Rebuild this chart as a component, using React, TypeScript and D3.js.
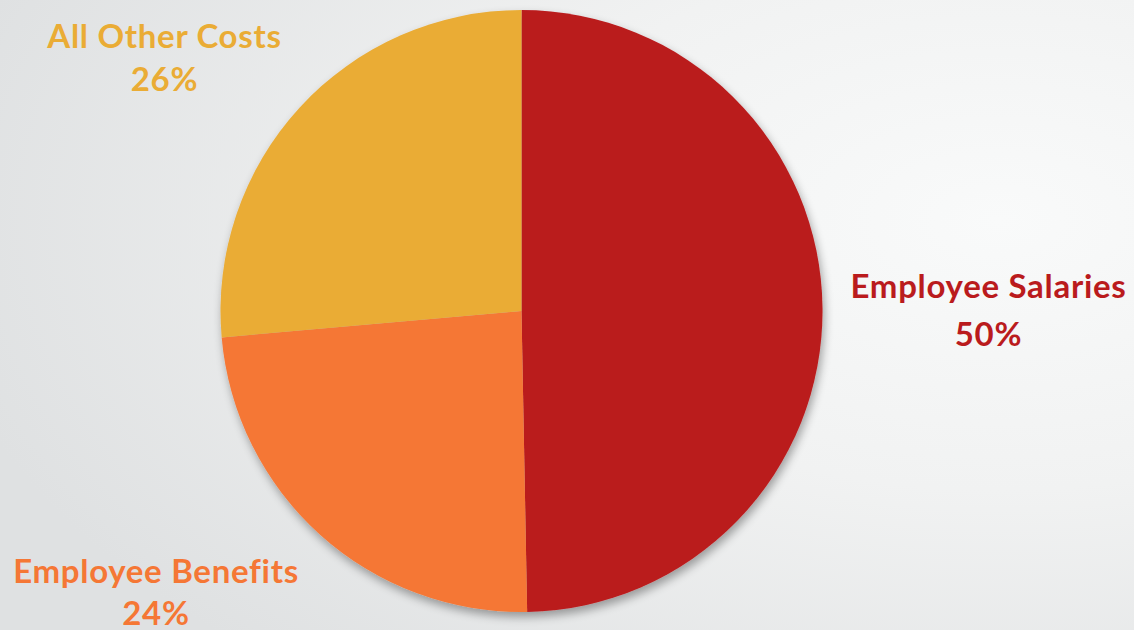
import React from "react";
import * as d3 from "d3";

const categories = ["Employee Salaries", "Employee Benefits", "All Other Costs"];
const values = [49.7, 23.9, 26.4];
const percentLabels = ["50%", "24%", "26%"];
const colors = ["#BA1B1D", "#F57735", "#EAAC35"];

const W = 1134;
const H = 630;
const cx = 521.5;
const cy = 311;
const R = 301;

const labelPos: [number, number, number][] = [
  [988.5, 298, 48],
  [156, 583, 42],
  [164.5, 48, 43],
];

export default function App() {
  const data = categories.map((c, i) => ({ name: c, value: values[i], pct: percentLabels[i], color: colors[i] }));
  const pie = d3.pie<any>().value((d) => d.value).sort(null).startAngle(0).endAngle(Math.PI * 2);
  const arcs = pie(data);
  const arc = d3.arc<any>().innerRadius(0).outerRadius(R);
  return (
    <svg width={W} height={H} style={{ position: "absolute", left: 0, top: 0 }}>
      <defs>
        <radialGradient id="bg" cx="0.88" cy="0.35" r="0.95" fx="0.88" fy="0.35">
          <stop offset="0" stopColor="#f9fafa" />
          <stop offset="0.45" stopColor="#f1f2f2" />
          <stop offset="1" stopColor="#dfe1e2" />
        </radialGradient>
        <filter id="shadow" x="-20%" y="-20%" width="140%" height="140%">
          <feGaussianBlur in="SourceAlpha" stdDeviation="5" />
          <feOffset dx="2" dy="5" result="b" />
          <feComponentTransfer>
            <feFuncA type="linear" slope="0.35" />
          </feComponentTransfer>
          <feMerge>
            <feMergeNode />
            <feMergeNode in="SourceGraphic" />
          </feMerge>
        </filter>
      </defs>
      <rect x={0} y={0} width={W} height={H} fill="url(#bg)" />
      <g transform={`translate(${cx},${cy})`} filter="url(#shadow)">
        {arcs.map((a, i) => (
          <path key={i} d={arc(a) as string} fill={a.data.color} />
        ))}
      </g>
      {data.map((d, i) => (
        <text
          key={i}
          x={labelPos[i][0]}
          y={labelPos[i][1]}
          textAnchor="middle"
          fill={d.color}
          style={{ fontFamily: "Lato, 'Open Sans', sans-serif", fontWeight: 700, fontSize: 33, letterSpacing: 0.7 }}
        >
          <tspan x={labelPos[i][0]}>{d.name}</tspan>
          <tspan x={labelPos[i][0]} dy={labelPos[i][2]}>{d.pct}</tspan>
        </text>
      ))}
    </svg>
  );
}
